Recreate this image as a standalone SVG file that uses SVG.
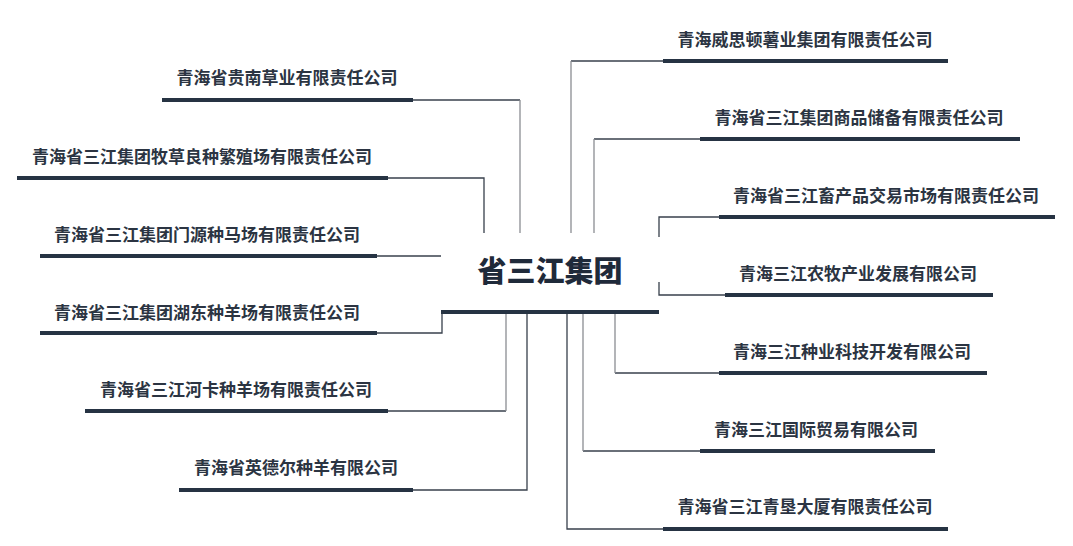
<svg xmlns="http://www.w3.org/2000/svg" width="1073" height="546" viewBox="0 0 1073 546">
<style>
.t{font-family:"Noto Sans CJK SC","Noto Sans",sans-serif;font-weight:bold;font-size:17px;fill:#2b3442;text-anchor:middle}
.m{font-family:"Noto Sans CJK SC","Noto Sans",sans-serif;font-weight:900;font-size:29px;fill:#1f2a3a;text-anchor:middle}
.b{stroke:#263343;stroke-width:4;fill:none}
.c{stroke:#38404c;stroke-width:1.3;fill:none}
.g{stroke:#8a8d92;stroke-width:1.3;fill:none}
</style>
<rect width="1073" height="546" fill="#ffffff"/>
<g id="connectors">
<path class="c" d="M413 100H520"/><path class="g" d="M520 100V233"/>
<path class="c" d="M388 178H484V233"/>
<path class="c" d="M377 256H441"/>
<path class="c" d="M377 333H442V312"/>
<path class="c" d="M388 411H506"/><path class="g" d="M506 411V312"/>
<path class="c" d="M413 490H527V312"/>
<path class="c" d="M663 61H571"/><path class="g" d="M571 61V233"/>
<path class="c" d="M700 139H594"/><path class="g" d="M594 139V233"/>
<path class="c" d="M719 217H659V237"/>
<path class="c" d="M725 295H659V282"/>
<path class="c" d="M719 373H615"/><path class="g" d="M615 373V312"/>
<path class="c" d="M700 451H583"/><path class="g" d="M583 451V312"/>
<path class="c" d="M663 529H567V312"/>
</g>
<g id="center">
<text class="m" x="550" y="282">省三江集团</text>
<path class="b" d="M441 312H659"/>
</g>
<g id="l1"><text class="t" x="287" y="84">青海省贵南草业有限责任公司</text><path class="b" d="M162 100H413"/></g>
<g id="l2"><text class="t" x="202" y="163">青海省三江集团牧草良种繁殖场有限责任公司</text><path class="b" d="M17 178H388"/></g>
<g id="l3"><text class="t" x="207" y="241">青海省三江集团门源种马场有限责任公司</text><path class="b" d="M40 256H377"/></g>
<g id="l4"><text class="t" x="207" y="319">青海省三江集团湖东种羊场有限责任公司</text><path class="b" d="M40 333H377"/></g>
<g id="l5"><text class="t" x="236" y="396">青海省三江河卡种羊场有限责任公司</text><path class="b" d="M85 411H388"/></g>
<g id="l6"><text class="t" x="296" y="474">青海省英德尔种羊有限公司</text><path class="b" d="M179 490H413"/></g>
<g id="r1"><text class="t" x="805" y="46">青海威思顿薯业集团有限责任公司</text><path class="b" d="M663 61H948"/></g>
<g id="r2"><text class="t" x="859" y="124">青海省三江集团商品储备有限责任公司</text><path class="b" d="M700 139H1020"/></g>
<g id="r3"><text class="t" x="886" y="202">青海省三江畜产品交易市场有限责任公司</text><path class="b" d="M719 217H1055"/></g>
<g id="r4"><text class="t" x="858" y="280">青海三江农牧产业发展有限公司</text><path class="b" d="M725 295H993"/></g>
<g id="r5"><text class="t" x="852" y="358">青海三江种业科技开发有限公司</text><path class="b" d="M719 373H987"/></g>
<g id="r6"><text class="t" x="816" y="436">青海三江国际贸易有限公司</text><path class="b" d="M700 451H935"/></g>
<g id="r7"><text class="t" x="805" y="513">青海省三江青垦大厦有限责任公司</text><path class="b" d="M663 529H948"/></g>
</svg>
